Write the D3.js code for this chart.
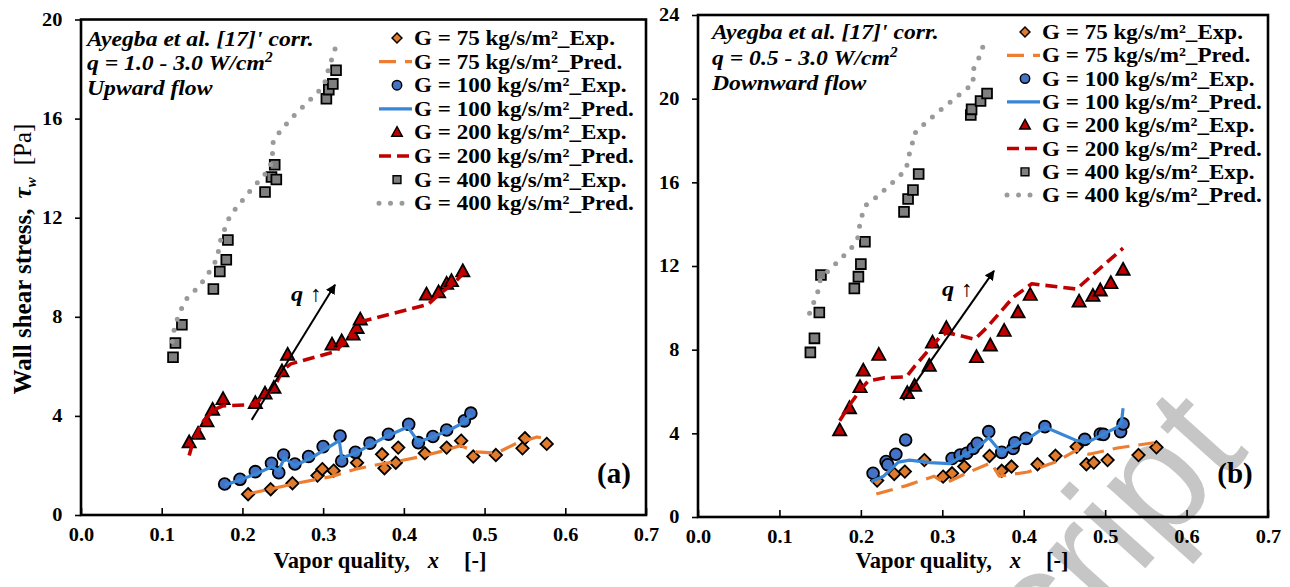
<!DOCTYPE html>
<html><head><meta charset="utf-8">
<script src="https://cdn.jsdelivr.net/npm/d3@7"></script>
<style>body{margin:0;background:#fff}svg{display:block}</style>
</head><body>
<svg id="chart" width="1290" height="587"></svg>
<script>
// ---------- DATA ----------
const xTicks = [0, 0.1, 0.2, 0.3, 0.4, 0.5, 0.6, 0.7];
const yTicksUp = [0, 4, 8, 12, 16, 20];
const yTicksDown = [0, 4, 8, 12, 16, 20, 24];
const legendLabels = ["G = 75 kg/s/m²_Exp.", "G = 75 kg/s/m²_Pred.", "G = 100 kg/s/m²_Exp.", "G = 100 kg/s/m²_Pred.",
  "G = 200 kg/s/m²_Exp.", "G = 200 kg/s/m²_Pred.", "G = 400 kg/s/m²_Exp.", "G = 400 kg/s/m²_Pred."];

// (a) Upward flow
const upExp75 = [[0.207,0.84],[0.235,1.04],[0.262,1.28],[0.293,1.59],[0.299,1.85],[0.313,1.79],[0.342,2.11],[0.373,2.45],[0.376,1.89],[0.390,2.11],[0.393,2.72],[0.426,2.49],[0.453,2.72],[0.471,3.0],[0.486,2.36],[0.514,2.42],[0.547,2.69],[0.550,3.1],[0.577,2.87]];
const upPred75 = [[0.207,0.85],[0.235,1.05],[0.27,1.3],[0.31,1.55],[0.34,1.85],[0.37,2.05],[0.39,2.15],[0.42,2.35],[0.45,2.6],[0.47,2.8],[0.49,2.55],[0.515,2.5],[0.54,2.9],[0.565,3.15],[0.58,3.05]];
const upExp100 = [[0.178,1.25],[0.197,1.44],[0.216,1.75],[0.236,2.09],[0.245,1.71],[0.251,2.42],[0.265,2.06],[0.282,2.36],[0.300,2.76],[0.321,3.19],[0.323,2.18],[0.340,2.53],[0.358,2.9],[0.381,3.26],[0.406,3.66],[0.418,2.92],[0.436,3.17],[0.453,3.43],[0.475,3.8],[0.483,4.11]];
const upPred100 = [[0.178,1.2],[0.2,1.45],[0.22,1.7],[0.236,1.95],[0.245,1.8],[0.252,2.3],[0.265,2.0],[0.285,2.3],[0.30,2.6],[0.32,3.0],[0.323,2.3],[0.34,2.5],[0.36,2.85],[0.38,3.2],[0.405,3.55],[0.418,2.95],[0.435,3.15],[0.455,3.4],[0.475,3.75],[0.483,4.05]];
const upExp200 = [[0.134,2.92],[0.145,3.27],[0.156,3.77],[0.163,4.24],[0.176,4.67],[0.216,4.51],[0.228,4.89],[0.239,5.12],[0.249,5.79],[0.256,6.46],[0.311,6.87],[0.323,7.0],[0.337,7.27],[0.342,7.54],[0.346,7.88],[0.428,8.89],[0.443,8.98],[0.453,9.32],[0.459,9.43],[0.473,9.83]];
const upPred200 = [[0.134,2.4],[0.14,3.1],[0.152,3.8],[0.165,4.25],[0.175,4.4],[0.21,4.45],[0.225,4.7],[0.24,5.2],[0.25,5.85],[0.26,6.1],[0.315,6.6],[0.33,7.1],[0.346,7.8],[0.43,8.5],[0.445,8.95],[0.46,9.3],[0.472,9.7]];
const upExp400 = [[0.114,6.37],[0.117,6.94],[0.125,7.68],[0.164,9.12],[0.172,9.83],[0.180,10.3],[0.182,11.1],[0.228,13.04],[0.236,13.64],[0.242,13.54],[0.240,14.14],[0.304,16.8],[0.307,17.17],[0.312,17.4],[0.316,17.95]];
const upPred400 = [[0.113,7.0],[0.116,7.6],[0.122,8.15],[0.13,8.7],[0.147,9.25],[0.163,10.0],[0.169,10.4],[0.172,11.0],[0.180,11.72],[0.185,12.1],[0.21,13.1],[0.232,13.9],[0.238,14.4],[0.236,14.9],[0.242,15.3],[0.26,16.0],[0.29,16.95],[0.300,17.3],[0.305,17.7],[0.307,18.14],[0.313,18.55],[0.316,19.0]];

// (b) Downward flow
const downExp75 = [[0.220,1.74],[0.241,2.06],[0.254,2.17],[0.278,2.72],[0.301,1.93],[0.312,2.09],[0.327,2.41],[0.358,2.92],[0.373,2.21],[0.385,2.41],[0.417,2.52],[0.439,2.93],[0.465,3.36],[0.477,2.52],[0.486,2.6],[0.503,2.72],[0.541,2.96],[0.563,3.33]];
const downPred75 = [[0.219,1.1],[0.256,1.5],[0.29,1.95],[0.303,1.6],[0.33,2.1],[0.36,2.6],[0.37,1.95],[0.405,2.15],[0.44,2.65],[0.465,3.2],[0.48,3.0],[0.515,3.3],[0.56,3.55]];
const downExp100 = [[0.215,2.09],[0.231,2.65],[0.233,2.5],[0.243,3.0],[0.255,3.68],[0.312,2.8],[0.322,2.96],[0.330,3.05],[0.338,3.28],[0.343,3.52],[0.357,4.08],[0.373,3.09],[0.387,3.28],[0.389,3.55],[0.403,3.76],[0.426,4.32],[0.475,3.71],[0.494,3.97],[0.498,3.95],[0.519,4.08],[0.522,4.45]];
const downPred100 = [[0.213,1.7],[0.228,1.95],[0.246,2.62],[0.26,2.72],[0.285,2.6],[0.309,2.55],[0.322,2.85],[0.343,3.3],[0.357,3.8],[0.373,3.05],[0.389,3.45],[0.404,3.7],[0.426,4.3],[0.465,3.65],[0.48,3.6],[0.495,3.9],[0.515,4.3],[0.52,4.5],[0.522,5.2]];
const downExp200 = [[0.174,4.13],[0.186,5.19],[0.199,6.2],[0.203,6.99],[0.222,7.74],[0.257,5.91],[0.266,6.26],[0.284,7.22],[0.288,8.33],[0.305,9.02],[0.342,7.63],[0.359,8.19],[0.376,8.89],[0.393,9.77],[0.408,10.61],[0.468,10.29],[0.485,10.56],[0.494,10.82],[0.507,11.17],[0.522,11.81]];
const downPred200 = [[0.174,4.6],[0.187,5.4],[0.2,6.1],[0.209,6.5],[0.228,6.65],[0.256,6.7],[0.266,7.2],[0.297,8.6],[0.305,8.8],[0.313,8.75],[0.340,8.5],[0.355,9.07],[0.387,10.5],[0.41,11.15],[0.465,10.9],[0.494,11.9],[0.522,12.85]];
const downExp400 = [[0.138,7.87],[0.143,8.54],[0.149,9.78],[0.192,10.93],[0.151,11.57],[0.197,11.49],[0.200,12.09],[0.205,13.16],[0.253,14.59],[0.258,15.2],[0.264,15.63],[0.271,16.4],[0.335,19.22],[0.336,19.49],[0.347,19.89],[0.355,20.25]];
const downPred400 = [[0.137,9.74],[0.142,10.24],[0.147,10.74],[0.149,11.25],[0.158,11.68],[0.188,12.84],[0.196,13.3],[0.198,13.83],[0.201,14.36],[0.205,14.87],[0.216,15.19],[0.247,16.27],[0.256,16.67],[0.258,17.19],[0.263,17.73],[0.264,18.26],[0.275,18.69],[0.295,19.37],[0.328,20.41],[0.339,20.76],[0.336,21.24],[0.343,21.76],[0.348,22.24],[0.352,22.77]];

// ---------- STYLE ----------
const SERIF = "'Liberation Serif', 'DejaVu Serif', serif";
const seriesStyle = [
  {type:"exp", shape:"diamond", fill:"#E07B2E"},
  {type:"pred", color:"#ED7D31", width:3.2, dash:"17,9"},
  {type:"exp", shape:"circle", fill:"#4472C4"},
  {type:"pred", color:"#3A86D6", width:3.2, dash:null},
  {type:"exp", shape:"triangle", fill:"#C00000"},
  {type:"pred", color:"#C00000", width:3.6, dash:"12,6"},
  {type:"exp", shape:"square", fill:"#7F7F7F"},
  {type:"pred", color:"#9A9A9A", width:5, dash:"0,11.5", cap:"round"}
];

const panels = [
  {x0:81, x1:646, yTop:19.5, yBot:515, ymax:20, yTicks:yTicksUp,
   series:[upExp75, upPred75, upExp100, upPred100, upExp200, upPred200, upExp400, upPred400],
   legendX:414, legendY0:38, legendDy:23.6,
   annX:87, annY:[46,70,95], annQ:"q = 1.0 - 3.0 W/cm", annFlow:"Upward flow",
   tag:"(a)", tagX:614, arrow:[[0.2115,3.84],[0.3147,9.29]], qPos:[291,301], titleX:380, yTitle:true},
  {x0:698, x1:1268, yTop:15, yBot:517, ymax:24, yTicks:yTicksDown,
   series:[downExp75, downPred75, downExp100, downPred100, downExp200, downPred200, downExp400, downPred400],
   legendX:1042, legendY0:32, legendDy:23.3,
   annX:712, annY:[39,65,90], annQ:"q = 0.5 - 3.0 W/cm", annFlow:"Downward flow",
   tag:"(b)", tagX:1235, arrow:[[0.2521,5.59],[0.3635,11.77]], qPos:[942,296], titleX:962, yTitle:false}
];

const svg = d3.select("#chart");
const defs = svg.append("defs");
defs.append("marker").attr("id","arrowhead").attr("viewBox","0 0 10 10").attr("refX",9).attr("refY",5)
  .attr("markerWidth",5).attr("markerHeight",5).attr("orient","auto")
  .append("path").attr("d","M0,0 L10,5 L0,10 Z").attr("fill","#000");

function shapePath(shape){
  if(shape==="diamond") return "M0,-6.2 L6.2,0 L0,6.2 L-6.2,0 Z";
  if(shape==="triangle") return "M0,-7.2 L6.6,4.8 L-6.6,4.8 Z";
  if(shape==="square") return "M-4.9,-4.9 H4.9 V4.9 H-4.9 Z";
  return d3.symbol(d3.symbolCircle, Math.PI*5.9*5.9)();
}

// watermark (behind)
svg.append("text").text("Manuscript")
  .attr("transform","translate(1250,452) rotate(-48)")
  .attr("text-anchor","end").style("font-family","'Liberation Sans', Arial, sans-serif")
  .attr("font-size",158).attr("fill","#c6c6c6");

const sx = 1.1;

panels.forEach(p => {
  const x = d3.scaleLinear().domain([0,0.7]).range([p.x0,p.x1]);
  const y = d3.scaleLinear().domain([0,p.ymax]).range([p.yBot,p.yTop]);
  const g = svg.append("g").style("font-family", SERIF);

  // axes
  const xa = g.append("g").attr("transform",`translate(0,${p.yBot})`)
    .call(d3.axisBottom(x).tickValues(xTicks).tickFormat(d3.format(".1f")).tickSizeInner(-7).tickSizeOuter(0).tickPadding(20));
  const ya = g.append("g").attr("transform",`translate(${p.x0},0)`)
    .call(d3.axisLeft(y).tickValues(p.yTicks).tickFormat(d3.format("d")).tickSizeInner(6).tickSizeOuter(0).tickPadding(11));
  [xa,ya].forEach(a=>{
    a.attr("font-family",null).attr("font-size",null);
    a.select(".domain").remove();
    a.selectAll("line").attr("stroke","#000").attr("stroke-width",1.6);
    a.selectAll("text").style("font-family",SERIF).attr("font-weight","bold").attr("font-size",18.5).attr("fill","#000");
  });
  xa.selectAll("text").attr("dy","0.32em").attr("transform",`scale(${sx},1)`);
  ya.selectAll("text").attr("transform",`scale(${sx},1)`);

  // series
  p.series.forEach((data,i)=>{
    const st = seriesStyle[i];
    if(st.type==="pred"){
      g.append("path").datum(data)
        .attr("d", d3.line().x(d=>x(d[0])).y(d=>y(d[1])))
        .attr("fill","none").attr("stroke",st.color).attr("stroke-width",st.width)
        .attr("stroke-dasharray",st.dash).attr("stroke-linecap",st.cap||"butt").attr("stroke-linejoin","round");
    } else {
      g.append("g").selectAll("path").data(data).join("path")
        .attr("transform",d=>`translate(${x(d[0])},${y(d[1])})`)
        .attr("d",shapePath(st.shape))
        .attr("fill",st.fill).attr("stroke","#000").attr("stroke-width",1.8);
    }
  });

  // frame
  g.append("rect").attr("x",p.x0).attr("y",p.yTop).attr("width",p.x1-p.x0).attr("height",p.yBot-p.yTop)
    .attr("fill","none").attr("stroke","#000").attr("stroke-width",2.6);

  // legend
  const lg = g.append("g");
  legendLabels.forEach((lab,i)=>{
    const cy = p.legendY0 + i*p.legendDy;
    const st = seriesStyle[i];
    if(st.type==="pred"){
      lg.append("line").attr("x1",p.legendX-35).attr("x2",p.legendX-2).attr("y1",cy).attr("y2",cy)
        .attr("stroke",st.color).attr("stroke-width",st.width).attr("stroke-dasharray",st.dash)
        .attr("stroke-linecap",st.cap||"butt");
    } else {
      lg.append("path").attr("transform",`translate(${p.legendX-17},${cy}) scale(0.8)`)
        .attr("d",shapePath(st.shape)).attr("fill",st.fill).attr("stroke","#000").attr("stroke-width",1.8);
    }
    lg.append("text").attr("transform",`translate(${p.legendX},${cy+7}) scale(${sx},1)`)
      .attr("font-weight","bold").attr("font-size",21).text(lab);
  });

  // annotation
  const ann = g.append("g").attr("font-weight","bold").attr("font-style","italic").attr("font-size",21.5);
  ann.append("text").attr("transform",`translate(${p.annX},${p.annY[0]}) scale(${sx},1)`).text("Ayegba et al. [17]' corr.");
  const t2 = ann.append("text").attr("transform",`translate(${p.annX},${p.annY[1]}) scale(${sx},1)`);
  t2.append("tspan").text(p.annQ);
  t2.append("tspan").attr("font-size",14).attr("dy",-8).text("2");
  ann.append("text").attr("transform",`translate(${p.annX},${p.annY[2]}) scale(${sx},1)`).text(p.annFlow);

  // arrow q
  g.append("line").attr("x1",x(p.arrow[0][0])).attr("y1",y(p.arrow[0][1]))
    .attr("x2",x(p.arrow[1][0])).attr("y2",y(p.arrow[1][1]))
    .attr("stroke","#000").attr("stroke-width",2).attr("marker-end","url(#arrowhead)");
  const qt = g.append("text").attr("transform",`translate(${p.qPos[0]},${p.qPos[1]}) scale(${sx},1)`)
    .attr("font-size",22);
  qt.append("tspan").attr("font-weight","bold").attr("font-style","italic").text("q");
  qt.append("tspan").attr("dx",6).text("↑");

  // panel tag
  g.append("text").attr("x",p.tagX).attr("y",483).attr("text-anchor","middle")
    .attr("font-weight","bold").attr("font-size",29).text(p.tag);

  // x title
  const xt = g.append("text").attr("x",p.titleX).attr("y",568).attr("text-anchor","middle")
    .attr("font-weight","bold").attr("font-size",22.5);
  xt.append("tspan").text("Vapor quality,");
  xt.append("tspan").attr("dx",18).attr("font-style","italic").text("x");
  xt.append("tspan").attr("dx",25).text("[-]");

  if(p.yTitle){
    const yt = g.append("text").attr("transform","translate(31,259) rotate(-90)").attr("text-anchor","middle")
      .attr("font-weight","bold").attr("font-size",25);
    yt.append("tspan").text("Wall shear stress,");
    yt.append("tspan").attr("dx",10).attr("font-style","italic").text("τ");
    yt.append("tspan").attr("font-style","italic").attr("font-size",15).attr("dy",5).text("w");
    yt.append("tspan").attr("dx",12).attr("dy",-5).attr("font-weight","normal").text("[Pa]");
  }
});
</script>
</body></html>
